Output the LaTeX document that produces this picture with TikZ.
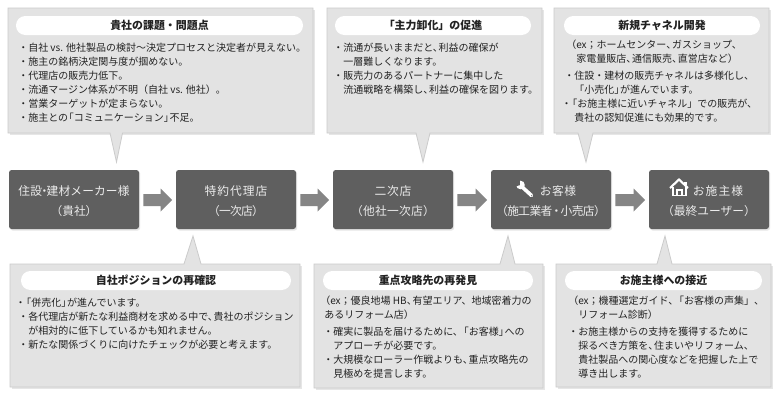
\documentclass[tikz,border=0pt]{standalone}
\usepackage{fontspec}
\setmainfont{Noto Sans CJK JP}
\usetikzlibrary{calc}
\definecolor{panel}{HTML}{E3E3E3}
\definecolor{panelline}{HTML}{CBCBCB}
\definecolor{shadowc}{HTML}{E6E6E6}
\definecolor{dark}{HTML}{5F5F5F}
\definecolor{flow}{HTML}{858585}
\definecolor{ink}{HTML}{222222}
\newcommand{\tp}{\kern-.42em}
\newcommand{\lsp}[2]{{\addfontfeature{LetterSpace=#1}#2}}
\tikzset{
  panelbox/.style={draw=panelline,line width=.6pt,fill=panel},
  pill/.style={fill=white,rounded corners=7pt,inner sep=0pt,font=\fontsize{8.2pt}{10pt}\selectfont\bfseries,text=ink},
  body/.style={anchor=north west,inner sep=0pt,align=left,text=ink,font=\fontsize{7.5pt}{10.5pt}\selectfont},
  stage/.style={fill=dark,rounded corners=2pt,inner sep=0pt},
  stagetext/.style={inner sep=0pt,text=white!92!black,align=center,font=\fontsize{8.8pt}{15pt}\selectfont},
  flowarrow/.style={fill=flow},
}
% callout panel: name, x1,y1,x2,y2, tail base left, tail base right, tip x, tip y
\newcommand{\calloutpanel}[9]{%
  \fill[shadowc] (#2+1.5,-#3-1.5) rectangle (#4+1.5,-#5-1.5);
  \ifdim #9pt>#5pt
    \draw[panelbox,line join=miter] (#2,-#3) -- (#4,-#3) -- (#4,-#5) -- (#7,-#5) -- (#8,-#9) -- (#6,-#5) -- (#2,-#5) -- cycle;
  \else
    \draw[panelbox,line join=miter] (#2,-#3) -- (#6,-#3) -- (#8,-#9) -- (#7,-#3) -- (#4,-#3) -- (#4,-#5) -- (#2,-#5) -- cycle;
  \fi
  \coordinate (#1) at (#2,-#3);
}
\newcommand{\flowbetween}[2]{%
  \fill[flowarrow] ($(#1.east)+(4,5.5)$) -- ($(#2.west)+(-15,5.5)$) -- ($(#2.west)+(-15,11)$) -- ($(#2.west)+(-3.5,-0.5)$) -- ($(#2.west)+(-15,-12)$) -- ($(#2.west)+(-15,-6.5)$) -- ($(#1.east)+(4,-6.5)$) -- cycle;
}
\begin{document}
\begin{tikzpicture}[x=0.75pt,y=0.75pt]
\useasboundingbox (0,0) rectangle (775,-400);
\fill[white] (0,0) rectangle (775,-400);

% upper panels
\calloutpanel{t1}{8}{8}{313}{133}{110}{122.5}{116.5}{162}
\calloutpanel{t2}{327}{8}{542}{133}{416}{430}{423}{162}
\calloutpanel{t3}{554}{8}{769}{133}{578}{593}{586}{162}
% lower panels
\calloutpanel{b1}{10}{264}{300}{387}{184}{201}{193}{236}
\calloutpanel{b2}{314}{264}{543}{388}{500}{515}{508}{236}
\calloutpanel{b3}{556}{264}{771}{387}{657}{672}{665}{236}

% title pills
\node[pill,minimum width=215.25pt,minimum height=14.25pt] (pt1) at (159.5,-25.5) {貴社の課題・問題点};
\node[pill,minimum width=147pt,minimum height=14.25pt] (pt2) at (433,-25.5) {「主力卸化」の促進};
\node[pill,minimum width=147pt,minimum height=14.25pt] (pt3) at (662,-25.5) {新規チャネル開発};
\node[pill,minimum width=202.5pt,minimum height=14.25pt] (pb1) at (156,-280.5) {自社ポジションの再確認};
\node[pill,minimum width=157.5pt,minimum height=14.25pt] (pb2) at (428,-280.5) {重点攻略先の再発見};
\node[pill,minimum width=147.75pt,minimum height=14.25pt] (pb3) at (663.5,-280.5) {お施主様への接近};

% panel bodies
\node[body] (tx1) at (18,-43) {・自社 vs. 他社製品の検討〜決定プロセスと決定者が見えない。\\
・施主の銘柄決定関与度が掴めない。\\
・代理店の販売力低下。\\
・流通マージン体系が不明（自社 vs. 他社）。\\
・営業ターゲットが定まらない。\\
・施主との\tp「コミュニケーション」\tp 不足。};
\node[body] (tx2) at (333,-43) {・流通が長いままだと、\tp 利益の確保が\\
\hspace{7.5pt}一層難しくなります。\\
・販売力のあるパートナーに集中した\\
\hspace{7.5pt}流通戦略を構築し、\tp 利益の確保を図ります。};
\node[body] (tx3a) at (566,-40) {（ex；ホームセンター、\tp ガスショップ、\\
\hspace{7.5pt}家電量販店、\tp 通信販売、\tp 直営店など）};
\node[body] (tx3b) at (564,-71) {・住設・建材の販売チャネルは多様化し、\\
\hspace{7.5pt}「小売化」\tp が進んでいます。\\
\hspace{-2pt}・\tp「お施主様に近いチャネル」での販売が、\\
\hspace{7.5pt}貴社の認知促進にも効果的です。};
\node[body] (bx1) at (18,-298) {\hspace{-2pt}・\tp「併売化」\tp が進んでいます。\\
・各代理店が新たな利益商材を求める中で、\tp 貴社のポジション\\
\hspace{7.5pt}が相対的に低下しているかも知れません。\\
・新たな関係づくりに向けたチェックが必要と考えます。};
\node[body] (bx2a) at (320,-296) {（ex；優良地場 HB、\tp 有望エリア、地域密着力の\\
\hspace{3pt}あるリフォーム店）};
\node[body] (bx2b) at (323,-327) {・確実に製品を届けるために、\tp「お客様」\tp への\\
\hspace{7.5pt}アプローチが必要です。\\
・大規模なローラー作戦よりも、\tp 重点攻略先の\\
\hspace{7.5pt}見極めを提言します。};
\node[body] (bx3a) at (568,-296) {（ex；機種選定ガイド、\tp「お客様の声集」、\\
\hspace{7.5pt}リフォーム診断）};
\node[body] (bx3b) at (568,-327) {・お施主様からの支持を獲得するために\\
\hspace{7.5pt}採るべき方策を、\tp 住まいやリフォーム、\\
\hspace{7.5pt}貴社製品への関心度などを把握した上で\\
\hspace{7.5pt}導き出します。};

% stages
\foreach \xa/\xb/\nm in {9/139/s1,176/296/s2,333/453/s3,491/611/s4,649/769/s5}{
  \fill[shadowc,rounded corners=2pt] (\xa+1,-171) rectangle (\xb+1.2,-230.5);
}
\node[stage,minimum width=97.5pt,minimum height=44.25pt] (s1) at (74,-199.5) {};
\node[stage,minimum width=90pt,minimum height=44.25pt] (s2) at (236,-199.5) {};
\node[stage,minimum width=90pt,minimum height=44.25pt] (s3) at (393,-199.5) {};
\node[stage,minimum width=90pt,minimum height=44.25pt] (s4) at (551,-199.5) {};
\node[stage,minimum width=90pt,minimum height=44.25pt] (s5) at (709,-199.5) {};
\node[stagetext] (s1t) at ($(s1)+(0,-1.5)$) {\lsp{1}{住設\kern-.3em ・\kern-.3em 建材メーカー様}\\（貴社）};
\node[stagetext] (s2t) at ($(s2)+(0,-1.5)$) {\lsp{9}{特約代理店}\\\lsp{-6}{（一次店）}};
\node[stagetext] (s3t) at ($(s3)+(0,-1.5)$) {\lsp{6}{二次店}\\\lsp{2}{（他社一次店）}};
\node[stagetext] (s4t) at ($(s4)+(0,-1.5)$) {\hspace{10.5pt}\lsp{4}{お客様}\\\lsp{-5}{（施工業者\kern-.15em ・\kern-.15em 小売店）}};
\node[stagetext] (s5t) at ($(s5)+(0,-1.5)$) {\hspace{13.5pt}\lsp{10}{お施主様}\\（最終ユーザー）};

\flowbetween{s1}{s2}
\flowbetween{s2}{s3}
\flowbetween{s3}{s4}
\flowbetween{s4}{s5}

% wrench icon
\draw[white,line width=2.7pt,line cap=round] (520.5,-185.5) -- (531.5,-195.5);
\fill[white] (520.5,-185) circle[radius=4.3];
\fill[dark] (519.8,-185.2) -- (515,-186.5) -- (514.5,-180) -- (520,-179.5) -- cycle;
\fill[dark] (531.7,-195.7) circle[radius=.6];
% house icon
\draw[white,line width=1.6pt,miter limit=4] (670,-188) -- (679,-179.5) -- (688,-188);
\fill[white] (684,-181.5) rectangle (686.5,-185);
\draw[white,line width=1.2pt] (673,-187) -- (673,-195.5) -- (686,-195.5) -- (686,-187);
\draw[white,line width=1.1pt] (677,-195.5) -- (677,-190) -- (682,-190) -- (682,-195.5);
\end{tikzpicture}
\end{document}
